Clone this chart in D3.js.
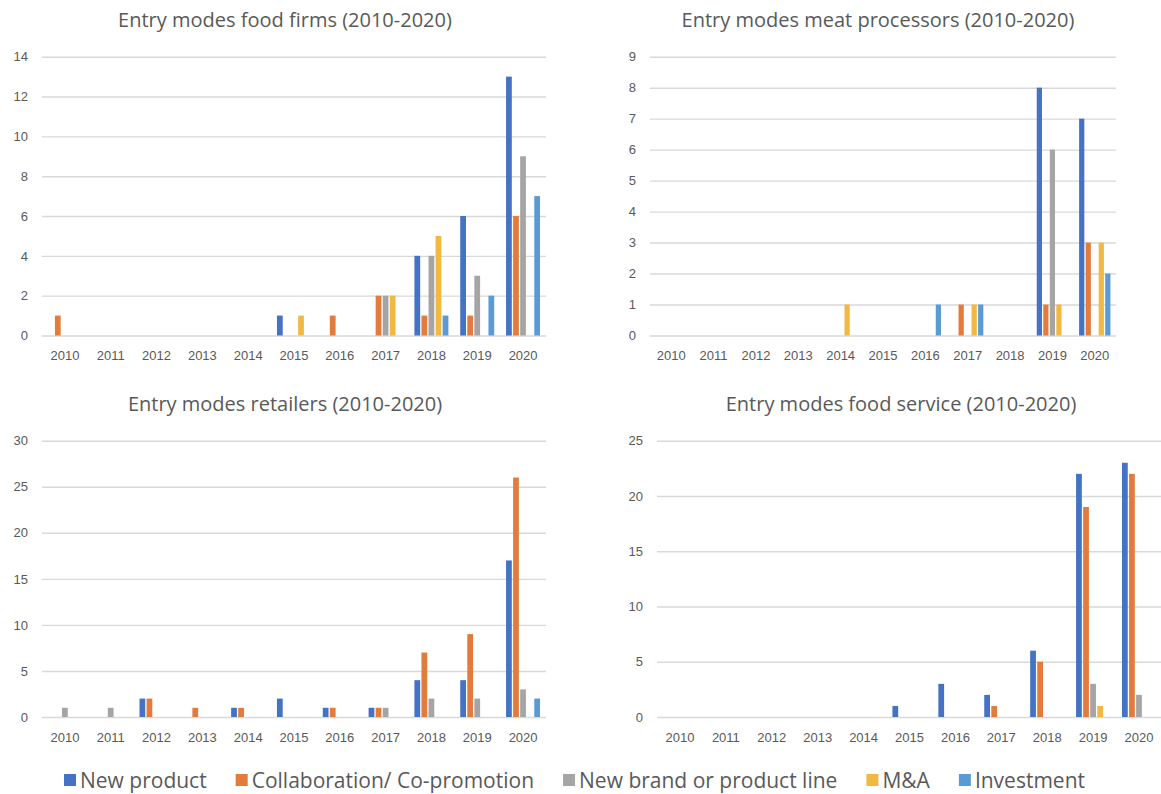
<!DOCTYPE html>
<html>
<head>
<meta charset="utf-8">
<script src="https://cdn.jsdelivr.net/npm/d3@7"></script>
<style>
  html, body { margin: 0; padding: 0; background: #ffffff; }
  svg { display: block; font-family: "Open Sans", "DejaVu Sans", sans-serif; }
</style>
</head>
<body>
<svg id="chart" width="1161" height="794"></svg>
<script>
// Years on the category axis
const years = ["2010", "2011", "2012", "2013", "2014", "2015", "2016", "2017", "2018", "2019", "2020"];

// Entry modes (series)
const seriesNames = ["New product", "Collaboration/ Co-promotion", "New brand or product line", "M&A", "Investment"];
const seriesColors = ["#4472C4", "#E37B3D", "#A5A5A5", "#F1B941", "#5B9BD5"];

// Food firms
const foodNewProduct = [0, 0, 0, 0, 0, 1, 0, 0, 4, 6, 13];
const foodCollab     = [1, 0, 0, 0, 0, 0, 1, 2, 1, 1, 6];
const foodNewBrand   = [0, 0, 0, 0, 0, 0, 0, 2, 4, 3, 9];
const foodMA         = [0, 0, 0, 0, 0, 1, 0, 2, 5, 0, 0];
const foodInvest     = [0, 0, 0, 0, 0, 0, 0, 0, 1, 2, 7];
const foodTicks = [0, 2, 4, 6, 8, 10, 12, 14];

// Meat processors
const meatNewProduct = [0, 0, 0, 0, 0, 0, 0, 0, 0, 8, 7];
const meatCollab     = [0, 0, 0, 0, 0, 0, 0, 1, 0, 1, 3];
const meatNewBrand   = [0, 0, 0, 0, 0, 0, 0, 0, 0, 6, 0];
const meatMA         = [0, 0, 0, 0, 1, 0, 0, 1, 0, 1, 3];
const meatInvest     = [0, 0, 0, 0, 0, 0, 1, 1, 0, 0, 2];
const meatTicks = [0, 1, 2, 3, 4, 5, 6, 7, 8, 9];

// Retailers
const retailNewProduct = [0, 0, 2, 0, 1, 2, 1, 1, 4, 4, 17];
const retailCollab     = [0, 0, 2, 1, 1, 0, 1, 1, 7, 9, 26];
const retailNewBrand   = [1, 1, 0, 0, 0, 0, 0, 1, 2, 2, 3];
const retailMA         = [0, 0, 0, 0, 0, 0, 0, 0, 0, 0, 0];
const retailInvest     = [0, 0, 0, 0, 0, 0, 0, 0, 0, 0, 2];
const retailTicks = [0, 5, 10, 15, 20, 25, 30];

// Food service
const serviceNewProduct = [0, 0, 0, 0, 0, 1, 3, 2, 6, 22, 23];
const serviceCollab     = [0, 0, 0, 0, 0, 0, 0, 1, 5, 19, 22];
const serviceNewBrand   = [0, 0, 0, 0, 0, 0, 0, 0, 0, 3, 2];
const serviceMA         = [0, 0, 0, 0, 0, 0, 0, 0, 0, 1, 0];
const serviceInvest     = [0, 0, 0, 0, 0, 0, 0, 0, 0, 0, 0];
const serviceTicks = [0, 5, 10, 15, 20, 25];

const panels = [
  { title: "Entry modes food firms (2010-2020)", series: [foodNewProduct, foodCollab, foodNewBrand, foodMA, foodInvest], ticks: foodTicks,
    x0: 42, x1: 546, y0: 335.5, y1: 56.7, titleX: 285, titleY: 27, xPad: 15 },
  { title: "Entry modes meat processors (2010-2020)", series: [meatNewProduct, meatCollab, meatNewBrand, meatMA, meatInvest], ticks: meatTicks,
    x0: 650, x1: 1116, y0: 335.5, y1: 56.7, titleX: 878, titleY: 27, xPad: 15 },
  { title: "Entry modes retailers (2010-2020)", series: [retailNewProduct, retailCollab, retailNewBrand, retailMA, retailInvest], ticks: retailTicks,
    x0: 42, x1: 546, y0: 717, y1: 440.7, titleX: 285, titleY: 411, xPad: 16 },
  { title: "Entry modes food service (2010-2020)", series: [serviceNewProduct, serviceCollab, serviceNewBrand, serviceMA, serviceInvest], ticks: serviceTicks,
    x0: 657, x1: 1162, y0: 717, y1: 440.7, titleX: 901, titleY: 411, xPad: 16 }
];

const textColor = "#595959";
const gridColor = "#D9D9D9";
const svg = d3.select("#chart");

panels.forEach(p => {
  const g = svg.append("g");
  const x = d3.scaleBand().domain(years).range([p.x0, p.x1]).paddingInner(0.23).paddingOuter(0.115);
  const xs = d3.scaleBand().domain(d3.range(seriesNames.length)).range([0, x.bandwidth()]);
  const y = d3.scaleLinear().domain([0, d3.max(p.ticks)]).range([p.y0, p.y1]);

  // value axis with gridlines
  const yAxis = d3.axisLeft(y).tickValues(p.ticks).tickFormat(d3.format("d"))
    .tickSizeInner(-(p.x1 - p.x0)).tickSizeOuter(0).tickPadding(14);
  const ya = g.append("g").attr("transform", `translate(${p.x0},0)`).call(yAxis);
  ya.select(".domain").remove();
  ya.selectAll(".tick line").attr("stroke", gridColor).attr("stroke-width", 1.4);
  ya.selectAll(".tick text").attr("fill", textColor).style("font-size", "13px");

  // category axis
  const xAxis = d3.axisBottom(x).tickSize(0).tickPadding(p.xPad);
  const xa = g.append("g").attr("transform", `translate(0,${p.y0})`).call(xAxis);
  xa.select(".domain").remove();
  xa.selectAll(".tick text").attr("fill", textColor).style("font-size", "13px");

  // clustered bars
  const groups = g.append("g").selectAll("g")
    .data(years).join("g")
    .attr("transform", d => `translate(${x(d)},0)`);
  groups.selectAll("rect")
    .data((yr, i) => p.series.map((s, k) => ({ k, v: s[i] })).filter(d => d.v > 0))
    .join("rect")
    .attr("x", d => xs(d.k) + 0.6)
    .attr("width", Math.max(1, xs.bandwidth() - 1.3))
    .attr("y", d => y(d.v))
    .attr("height", d => y(0) - y(d.v))
    .attr("fill", d => seriesColors[d.k]);

  // title
  g.append("text")
    .attr("x", p.titleX).attr("y", p.titleY)
    .attr("text-anchor", "middle")
    .attr("fill", textColor)
    .style("font-size", "20px")
    .text(p.title);
});

// shared legend
const legend = svg.append("g").attr("transform", "translate(0,788)");
let cx = 64;
seriesNames.forEach((name, k) => {
  const item = legend.append("g").attr("transform", `translate(${cx},0)`);
  item.append("rect").attr("x", 0).attr("y", -14).attr("width", 12).attr("height", 12).attr("fill", seriesColors[k]);
  const t = item.append("text").attr("x", 16).attr("y", 0)
    .attr("fill", textColor).style("font-size", "21px").text(name);
  cx += 16 + t.node().getComputedTextLength() + 29;
});
</script>
</body>
</html>
